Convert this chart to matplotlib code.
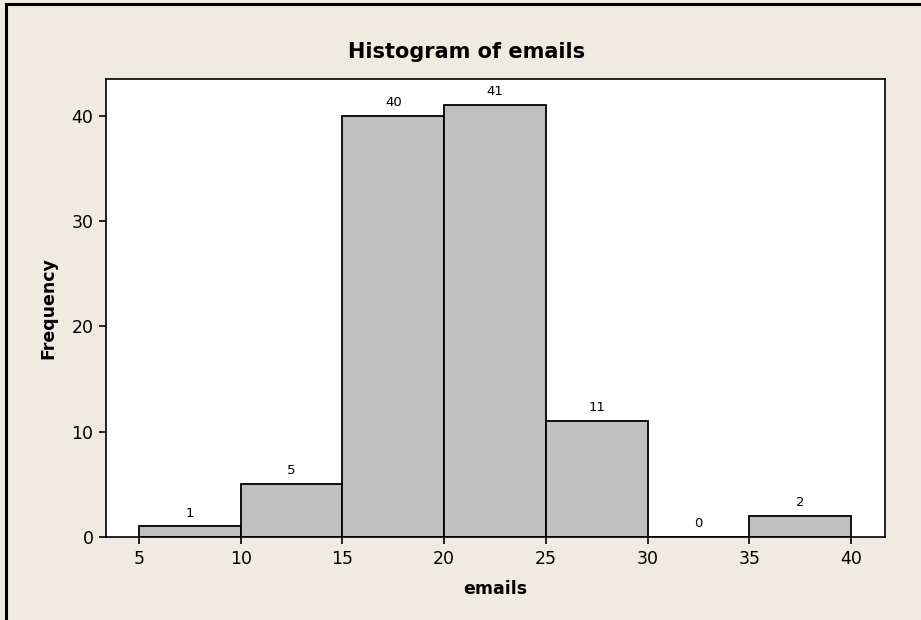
import numpy as np
import matplotlib.pyplot as plt
from matplotlib.lines import Line2D

# histogram data
bin_edges = [5, 10, 15, 20, 25, 30, 35, 40]
counts = [1, 5, 40, 41, 11, 0, 2]
x_ticks = [5, 10, 15, 20, 25, 30, 35, 40]
y_ticks = [0, 10, 20, 30, 40]

BG = "#efebe1"
BAR = "#c0c0c0"

fig = plt.figure(figsize=(9.21, 6.2), dpi=100, facecolor=BG)
ax = fig.add_axes([106/921, 1-537/620, (885-106)/921, (537-79)/620])

lefts = np.array(bin_edges[:-1])
widths = np.diff(bin_edges)
bars = ax.bar(lefts, counts, width=widths, align="edge", color=BAR,
              edgecolor="black", linewidth=1.3)
ax.bar_label(bars, labels=[str(c) for c in counts], padding=5, fontsize=9.5)

ax.set_xlim(3.38, 41.67)
ax.set_ylim(0, 43.5)
ax.set_xticks(x_ticks)
ax.set_yticks(y_ticks)
ax.tick_params(direction="out", length=5, width=1.2, labelsize=12.5, pad=4)
for s in ax.spines.values():
    s.set_linewidth(1.2)

# title sits a bit left of the axes centre, as in the reference
ax.set_title("Histogram of emails", fontsize=15, fontweight="bold", pad=15,
             x=0.463)
ax.set_xlabel("emails", fontsize=12.5, fontweight="bold", labelpad=9)
ax.set_ylabel("Frequency", fontsize=12.5, fontweight="bold", labelpad=10)

# outer frame (left and top edges)
fig.add_artist(Line2D([6/921, 6/921], [0, 1-4/620], color="black", lw=2.2,
                      transform=fig.transFigure))
fig.add_artist(Line2D([6/921, 1], [1-4/620, 1-4/620], color="black", lw=2.2,
                      transform=fig.transFigure))

fig.savefig("out.png", dpi=100, facecolor=BG)
